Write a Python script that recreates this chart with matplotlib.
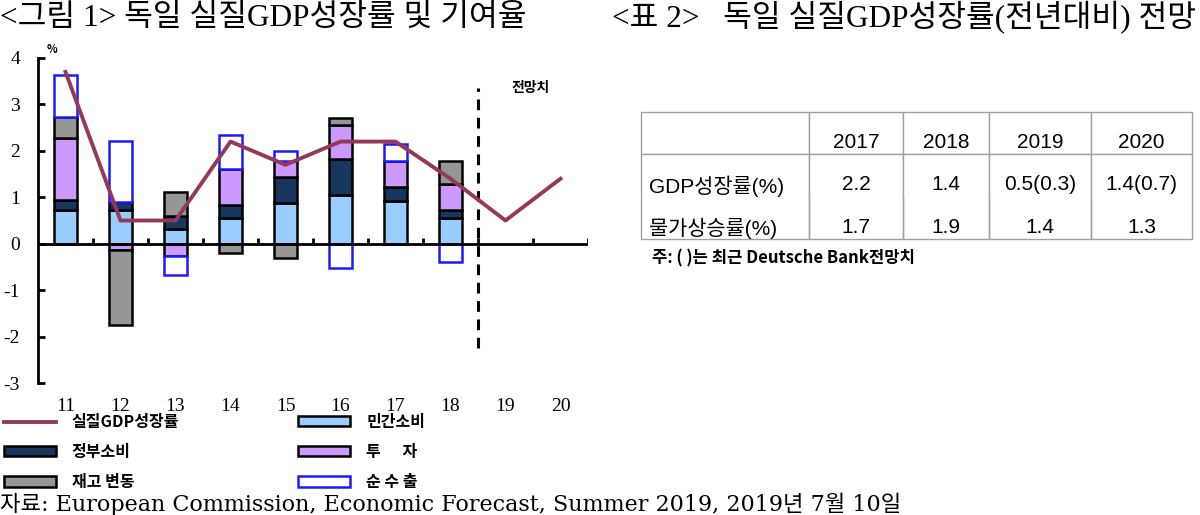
import numpy as np
import matplotlib
matplotlib.use("Agg")
import matplotlib.pyplot as plt
from matplotlib.patches import Patch
from matplotlib.lines import Line2D

# ---- data ----
years = ["11", "12", "13", "14", "15", "16", "17", "18", "19", "20"]
gdp_growth = [3.7, 0.5, 0.5, 2.2, 1.7, 2.2, 2.2, 1.4, 0.5, 1.4]

# contributions (%p), only the actual years 2011-2018
private_cons = [0.72, 0.72, 0.32, 0.55, 0.88, 1.04, 0.91, 0.55]
gov_cons = [0.22, 0.18, 0.27, 0.29, 0.56, 0.79, 0.31, 0.17]
investment = [1.33, -0.14, -0.26, 0.78, 0.34, 0.72, 0.56, 0.57]
inventory = [0.46, -1.61, 0.52, -0.19, -0.30, 0.16, 0.0, 0.49]
net_exports = [0.90, 1.32, -0.41, 0.72, 0.22, -0.53, 0.36, -0.40]

table_cols = ["", "2017", "2018", "2019", "2020"]
table_rows = [["GDP성장률(%)", "2.2", "1.4", "0.5(0.3)", "1.4(0.7)"],
              ["물가상승률(%)", "1.7", "1.9", "1.4", "1.3"]]

n_actual = len(private_cons)

plt.rcParams['font.family'] = ['Noto Sans CJK KR', 'DejaVu Sans']
serif = ['Liberation Serif', 'Noto Sans CJK KR']

fig = plt.figure(figsize=(12, 5.15), dpi=100)
ax = fig.add_axes([38/1200, 132/515, 550/1200, 325/515])

x = np.arange(len(years))
xa = x[:n_actual]
w = 0.43

series = [
    ("민간소비", private_cons, "#99CCFF", "black"),
    ("정부소비", gov_cons, "#17375E", "black"),
    ("투      자", investment, "#CC99FF", "black"),
    ("재고 변동", inventory, "#969696", "black"),
    ("순 수 출", net_exports, "white", "#1A1AFF"),
]

pos_base = np.zeros(n_actual)
neg_base = np.zeros(n_actual)
for name, vals, fc, ec in series:
    vals = np.array(vals)
    base = np.where(vals >= 0, pos_base, neg_base)
    ax.bar(xa, vals, w, bottom=base, color=fc, edgecolor=ec, linewidth=1.8, zorder=3)
    pos_base = pos_base + np.clip(vals, 0, None)
    neg_base = neg_base + np.clip(vals, None, 0)

ax.plot(x, gdp_growth, color="#953959", linewidth=2.8, zorder=5)

# forecast separator
ax.vlines(n_actual - 0.5, -2.25, 3.35, colors="black", linestyles=(0, (3.5, 2.5)), linewidth=2.2, zorder=4)
ax.text(n_actual + 0.45, 3.35, "전망치", fontsize=10, fontweight="bold", ha="center", va="center")

ax.set_xlim(-0.5, len(years) - 0.5)
ax.set_ylim(-3, 4)

# zero axis with small upward ticks at category boundaries
ax.axhline(0, color="black", linewidth=2, zorder=4)
ax.vlines(x + 0.5, 0, 0.12, colors="black", linewidth=2, zorder=4)

for s in ["top", "right", "bottom"]:
    ax.spines[s].set_visible(False)
ax.spines["left"].set_linewidth(2)

ax.set_yticks(range(-3, 5))
ax.set_yticklabels([str(v) for v in range(-3, 5)], family=serif, fontsize=14)
ax.tick_params(axis="y", direction="in", length=5, width=2, pad=13)
ax.set_xticks(x)
ax.set_xticklabels(years, family=serif, fontsize=14)
ax.tick_params(axis="x", length=0, pad=11)
ax.text(-0.25, 4.05, "%", fontsize=8, fontweight="bold", ha="center", va="bottom")

# legend
handles = [
    Line2D([], [], color="#953959", linewidth=2.8),
    Patch(facecolor="#17375E", edgecolor="black", linewidth=1.8),
    Patch(facecolor="#969696", edgecolor="black", linewidth=1.8),
    Patch(facecolor="#99CCFF", edgecolor="black", linewidth=1.8),
    Patch(facecolor="#CC99FF", edgecolor="black", linewidth=1.8),
    Patch(facecolor="white", edgecolor="#1A1AFF", linewidth=1.8),
]
labels = ["실질GDP성장률", "정부소비", "재고 변동", "민간소비", "투      자", "순 수 출"]
fig.legend(handles, labels, ncol=2, loc="upper left", bbox_to_anchor=(4/1200, 1 - 414/515),
           frameon=False, prop={"weight": "bold", "size": 11.5},
           handlelength=3.25, handleheight=0.6, handletextpad=1.0,
           columnspacing=7.45, labelspacing=0.88, borderaxespad=0, borderpad=0)

# titles and source
fig.text(0.0, 1 - 18/515, "<그림 1> 독일 실질GDP성장률 및 기여율", family=serif, fontsize=22.5, va="center", ha="left")
fig.text(612/1200, 1 - 18/515, "<표 2>   독일 실질GDP성장률(전년대비) 전망", family=serif, fontsize=22.5, va="center", ha="left")
fig.text(0.0, 1 - 504/515, "자료: European Commission, Economic Forecast, Summer 2019, 2019년 7월 10일",
         family=['DejaVu Serif', 'Noto Sans CJK KR'], fontsize=16, va="center", ha="left")

# table
tax = fig.add_axes([641/1200, (515-239)/515, 551/1200, 127/515])
tax.axis("off")
col_w = np.array([168, 94, 86, 102, 101]) / 551
tbl = tax.table(cellText=table_rows, colLabels=table_cols, colWidths=list(col_w),
                cellLoc="center", colLoc="center", loc="center", bbox=[0, 0, 1, 1])
tbl.auto_set_font_size(False)
for (r, c), cell in tbl.get_celld().items():
    cell.set_edgecolor("#A0A0A0")
    cell.set_linewidth(1.0)
    txt = cell.get_text()
    txt.set_fontsize(15)
    txt.set_family(['Liberation Sans', 'Noto Sans CJK KR'])
    txt.set_va("top")
    if c == 0 and r > 0:
        cell._loc = "left"
        txt.set_ha("left")
        cell.PAD = 0.05
    if r == 1:
        cell.visible_edges = "LRT"
    elif r == 2:
        cell.visible_edges = "LRB"
fig.text(652/1200, 1 - 258/515, "주: ( )는 최근 Deutsche Bank전망치", fontsize=12, fontweight="bold",
         va="center", ha="left")

fig.savefig("out.png", dpi=100)
